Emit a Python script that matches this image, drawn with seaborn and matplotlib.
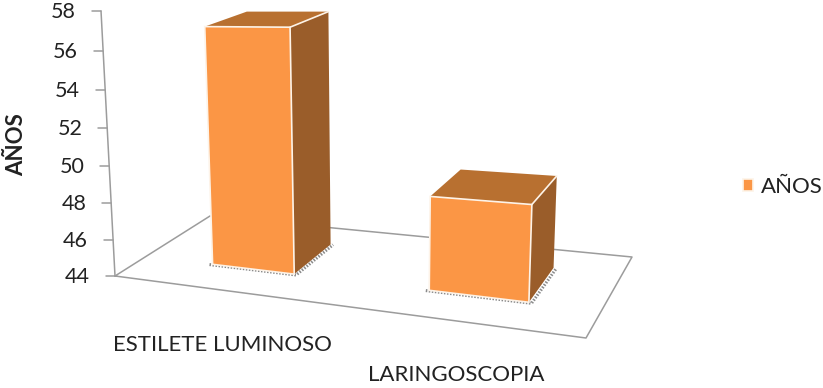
import numpy as np
import matplotlib
matplotlib.use("Agg")
import matplotlib.pyplot as plt
import seaborn as sns
from matplotlib.patches import Polygon
from matplotlib.lines import Line2D
from matplotlib.transforms import Transform, IdentityTransform

categories = ["ESTILETE LUMINOSO", "LARINGOSCOPIA"]
values = [56.7, 48.7]
series_name = "AÑOS"
y_ticks = [44, 46, 48, 50, 52, 54, 56, 58]

WIDTH, HEIGHT = 823, 388
BASE = 44
FRONT_COLOR = "#FB9645"
TOP_COLOR = "#B87030"
SIDE_COLOR = "#9A5D2A"
EDGE_COLOR = "#FDF3E8"
LINE_COLOR = "#9C9C9C"
TEXT_COLOR = "#222222"
FONT = "Lato"

# Perspective camera: floor corners in pixels plus a vertical vanishing direction.
FLOOR = np.array([[115, 276], [586, 338], [632, 257], [210, 216]], float)
VERTICAL_W = -0.003606
VERTICAL = (378 * VERTICAL_W, 5260 * VERTICAL_W, VERTICAL_W)
DEPTH_FRONT, DEPTH_BACK = 0.30, 0.75
U_ORIGIN, U_STEP = 0.272, 0.495


def camera_matrix():
    (x0, y0), (x1, y1), (x2, y2), (x3, y3) = FLOOR
    dx1, dx2, sx = x1 - x2, x3 - x2, x0 - x1 + x2 - x3
    dy1, dy2, sy = y1 - y2, y3 - y2, y0 - y1 + y2 - y3
    den = dx1 * dy2 - dx2 * dy1
    g = (sx * dy2 - dx2 * sy) / den
    h = (dx1 * sy - sx * dy1) / den
    return np.array([
        [x1 - x0 + g * x1, x3 - x0 + h * x3, VERTICAL[0], x0],
        [y1 - y0 + g * y1, y3 - y0 + h * y3, VERTICAL[1], y0],
        [g, h, VERTICAL[2], 1.0],
    ])


CAMERA = camera_matrix()


def project(x, value, depth):
    """Category position, value and depth to display coordinates."""
    x, value, depth = np.broadcast_arrays(x, value, depth)
    u = U_ORIGIN + U_STEP * np.asarray(x, float)
    pts = np.stack([u, np.asarray(depth, float), np.asarray(value, float) - BASE, np.ones_like(u)], axis=-1)
    out = pts @ CAMERA.T
    return np.stack([out[..., 0] / out[..., 2], HEIGHT - out[..., 1] / out[..., 2]], axis=-1)


class DepthPlane(Transform):
    """Maps (category, value) data onto a vertical plane at a fixed depth."""
    input_dims = 2
    output_dims = 2
    is_separable = False
    has_inverse = False

    def __init__(self, plane_depth):
        super().__init__()
        self.plane_depth = plane_depth

    def transform_non_affine(self, values):
        values = np.asarray(values, float)
        return project(values[:, 0], values[:, 1], self.plane_depth)


sns.set_theme(style="white")
plt.rcParams["font.family"] = [FONT, "DejaVu Sans"]

fig = plt.figure(figsize=(WIDTH / 100, HEIGHT / 100), dpi=100)
ax = fig.add_axes([0, 0, 1, 1])
ax.set_axis_off()

sns.barplot(x=categories, y=values, width=0.4, color=FRONT_COLOR, saturation=1,
            label=series_name, ax=ax)

identity = IdentityTransform()
plane = DepthPlane(DEPTH_FRONT)


def face(points, **kw):
    ax.add_patch(Polygon(points, closed=True, transform=identity, clip_on=False, **kw))


def seg(points, **kw):
    points = np.asarray(points)
    ax.add_line(Line2D(points[:, 0], points[:, 1], transform=identity, clip_on=False, **kw))


bars = list(ax.patches)

# Floor outline and the vertical axis with its ticks
x_lo = -U_ORIGIN / U_STEP
x_hi = (1 - U_ORIGIN) / U_STEP
corners = project([x_lo, x_hi, x_hi, x_lo, x_lo], BASE, [0, 0, 1, 1, 0])
seg(corners, color=LINE_COLOR, lw=1.1, zorder=1)
seg(project([x_lo, x_lo], [BASE, y_ticks[-1]], 0), color=LINE_COLOR, lw=1.1, zorder=1)
for tick in y_ticks:
    anchor = project(x_lo, tick, 0)
    seg([anchor - [9, 0], anchor], color=LINE_COLOR, lw=1.1, zorder=1)
    fig.text(anchor[0] - 25, anchor[1] - 1, str(tick), ha="right", va="center",
             fontsize=15.5, color=TEXT_COLOR, transform=identity)

# Each seaborn bar becomes the front face of a box; side and top faces share its values
for bar in bars:
    x0, x1 = bar.get_x(), bar.get_x() + bar.get_width()
    top = bar.get_height()
    bar.set_y(BASE)
    bar.set_height(top - BASE)
    bar.set_transform(plane)
    bar.set_clip_on(False)
    bar.set_zorder(4)
    bar.set_edgecolor(EDGE_COLOR)
    bar.set_linewidth(1.2)

    step = 0.012
    shadow = np.vstack([
        project([x0 - step, x1 + step], BASE, DEPTH_FRONT - 0.008),
        project([x1 + step], BASE, DEPTH_BACK),
    ])
    seg(shadow, color="#8A8A8A", lw=2.2, ls=(0, (0.5, 0.5)), zorder=2)

    face(project([x1, x1, x1, x1], [BASE, top, top, BASE],
                 [DEPTH_FRONT, DEPTH_FRONT, DEPTH_BACK, DEPTH_BACK]),
         facecolor=SIDE_COLOR, edgecolor="none", zorder=3)
    face(project([x0, x1, x1, x0], top,
                 [DEPTH_FRONT, DEPTH_FRONT, DEPTH_BACK, DEPTH_BACK]),
         facecolor=TOP_COLOR, edgecolor="none", zorder=3)
    seg(project([x1, x1], top, [DEPTH_FRONT, DEPTH_BACK]), color=EDGE_COLOR, lw=1.2, zorder=5)

# Axis title, category labels and legend
fig.text(17 / WIDTH, 1 - 145 / HEIGHT, series_name, rotation=90, ha="center", va="center",
         fontsize=16, fontweight="bold", color=TEXT_COLOR)
label_centres = [(222, 345), (456, 375)]
for name, (cx, cy) in zip(categories, label_centres):
    fig.text(cx / WIDTH, 1 - cy / HEIGHT, name, ha="center", va="center",
             fontsize=16, color=TEXT_COLOR)

legend = ax.legend(loc="center left", bbox_to_anchor=(743 / WIDTH, 1 - 187 / HEIGHT),
                   bbox_transform=fig.transFigure, frameon=False, fontsize=16,
                   handlelength=0.45, handleheight=0.45, handletextpad=0.36,
                   borderpad=0, borderaxespad=0, labelcolor=TEXT_COLOR)

fig.savefig("out.png", dpi=100)
